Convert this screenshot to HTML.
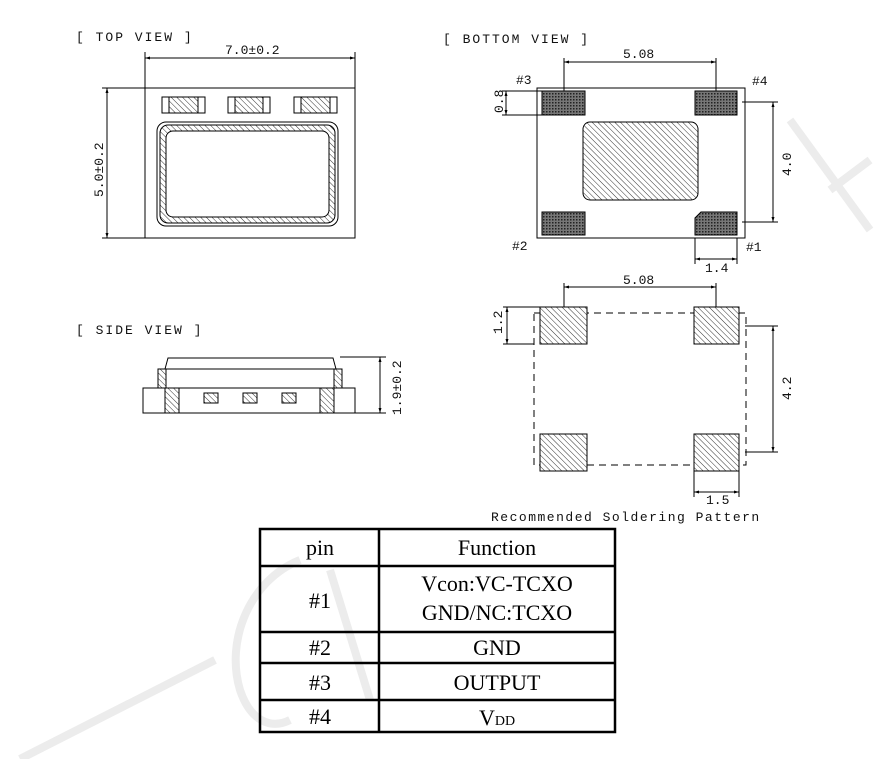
<!DOCTYPE html>
<html><head><style>
html,body{margin:0;padding:0;background:#fff;}
svg{display:block}
.t{font-family:"Liberation Mono",monospace;font-size:13px;fill:#111}
.s{font-family:"Liberation Serif",serif;font-size:22px;fill:#000}
</style></head><body>
<svg width="881" height="759" viewBox="0 0 881 759" xmlns="http://www.w3.org/2000/svg">
<defs>
<pattern id="h" width="4" height="4" patternUnits="userSpaceOnUse" patternTransform="rotate(-45)"><rect width="4" height="4" fill="#fff"/><line x1="0" y1="0" x2="0" y2="4" stroke="#333" stroke-width="1"/></pattern>
<pattern id="d" width="3" height="3" patternUnits="userSpaceOnUse"><rect width="3" height="3" fill="#777"/><rect width="1.5" height="1.5" fill="#222"/></pattern>
<marker id="a" viewBox="0 0 10 10" refX="10" refY="5" markerWidth="7" markerHeight="5" orient="auto-start-reverse"><path d="M0,2 L10,5 L0,8z" fill="#000"/></marker>
</defs>
<!-- watermark -->
<g stroke="#ececec" stroke-width="8" fill="none">
<line x1="20" y1="759" x2="215" y2="660"/>
<path d="M300,560 C250,580 225,640 240,690 C250,720 270,730 290,720"/>
<line x1="330" y1="570" x2="370" y2="700"/>
<line x1="790" y1="120" x2="870" y2="230"/>
<line x1="830" y1="190" x2="870" y2="160"/>
</g>
<g fill="none" stroke="#000" stroke-width="1">
<!-- TOP VIEW -->
<text class="t" x="76" y="41" stroke="none" font-size="14" letter-spacing="2">[ TOP VIEW ]</text>
<text class="t" x="225" y="54" stroke="none" font-size="12.5">7.0±0.2</text>
<line x1="145" y1="58" x2="355" y2="58" marker-start="url(#a)" marker-end="url(#a)"/>
<line x1="145" y1="52" x2="145" y2="88"/><line x1="355" y1="52" x2="355" y2="88"/>
<line x1="107" y1="88" x2="107" y2="238" marker-start="url(#a)" marker-end="url(#a)"/>
<line x1="102" y1="88" x2="145" y2="88"/><line x1="102" y1="238" x2="145" y2="238"/>
<text class="t" transform="translate(103,197) rotate(-90)" stroke="none" font-size="12.5">5.0±0.2</text>
<rect x="145" y="88" width="210" height="150"/>
<rect x="162" y="97" width="43" height="16"/><rect x="169" y="97" width="29" height="16" fill="url(#h)"/>
<rect x="228" y="97" width="42" height="16"/><rect x="235" y="97" width="28" height="16" fill="url(#h)"/>
<rect x="294" y="97" width="43" height="16"/><rect x="301" y="97" width="29" height="16" fill="url(#h)"/>
<rect x="157" y="122" width="181" height="104" rx="9"/>
<rect x="160" y="125" width="175" height="98" rx="8" fill="url(#h)"/>
<rect x="166" y="131" width="163" height="86" rx="7" fill="#fff"/>
<!-- SIDE VIEW -->
<text class="t" x="76" y="334" stroke="none" font-size="14" letter-spacing="2">[ SIDE VIEW ]</text>
<path d="M165,369 L168,358 L333,358 L336,369"/>
<rect x="158" y="369" width="184" height="19"/>
<rect x="158" y="369" width="8" height="19" fill="url(#h)"/><rect x="334" y="369" width="8" height="19" fill="url(#h)"/>
<rect x="143" y="388" width="212" height="25"/>
<rect x="165" y="388" width="14" height="25" fill="url(#h)"/><rect x="320" y="388" width="14" height="25" fill="url(#h)"/>
<rect x="204" y="393" width="14" height="10" fill="url(#h)"/><rect x="243" y="393" width="14" height="10" fill="url(#h)"/><rect x="282" y="393" width="14" height="10" fill="url(#h)"/>
<line x1="380" y1="357" x2="380" y2="413" marker-start="url(#a)" marker-end="url(#a)"/>
<line x1="340" y1="357" x2="386" y2="357"/><line x1="355" y1="413" x2="386" y2="413"/>
<text class="t" transform="translate(401,415) rotate(-90)" stroke="none" font-size="12.5">1.9±0.2</text>
<!-- BOTTOM VIEW -->
<text class="t" x="443" y="43" stroke="none" font-size="14" letter-spacing="2">[ BOTTOM VIEW ]</text>
<text class="t" x="623" y="58" stroke="none" font-size="12.5">5.08</text>
<line x1="564" y1="62" x2="716" y2="62" marker-start="url(#a)" marker-end="url(#a)"/>
<line x1="564" y1="58" x2="564" y2="93"/><line x1="716" y1="58" x2="716" y2="93"/>
<rect x="537" y="88" width="208" height="150"/>
<rect x="542" y="91" width="43" height="24" fill="url(#d)"/>
<rect x="695" y="91" width="42" height="24" fill="url(#d)"/>
<rect x="542" y="212" width="43" height="23" fill="url(#d)"/>
<path d="M701,212 L737,212 L737,235 L695,235 L695,218z" fill="url(#d)"/>
<rect x="583" y="122" width="115" height="78" rx="7" fill="url(#h)"/>
<line x1="506" y1="91" x2="506" y2="115" marker-start="url(#a)" marker-end="url(#a)"/>
<line x1="502" y1="91" x2="542" y2="91"/><line x1="502" y1="115" x2="542" y2="115"/>
<text class="t" transform="translate(503,113) rotate(-90)" stroke="none" font-size="12.5">0.8</text>
<line x1="773" y1="102" x2="773" y2="222" marker-start="url(#a)" marker-end="url(#a)"/>
<line x1="742" y1="102" x2="778" y2="102"/><line x1="742" y1="222" x2="778" y2="222"/>
<text class="t" transform="translate(791,176) rotate(-90)" stroke="none" font-size="12.5">4.0</text>
<line x1="695" y1="259" x2="737" y2="259" marker-start="url(#a)" marker-end="url(#a)"/>
<line x1="695" y1="238" x2="695" y2="264"/><line x1="737" y1="238" x2="737" y2="264"/>
<text class="t" x="705" y="272" stroke="none" font-size="12.5">1.4</text>
<text class="t" x="516" y="84" stroke="none" font-size="12.5">#3</text>
<text class="t" x="752" y="85" stroke="none" font-size="12.5">#4</text>
<text class="t" x="512" y="250" stroke="none" font-size="12.5">#2</text>
<text class="t" x="746" y="251" stroke="none" font-size="12.5">#1</text>
<!-- SOLDERING -->
<text class="t" x="623" y="284" stroke="none" font-size="12.5">5.08</text>
<line x1="564" y1="287" x2="716" y2="287" marker-start="url(#a)" marker-end="url(#a)"/>
<line x1="564" y1="283" x2="564" y2="307"/><line x1="716" y1="283" x2="716" y2="307"/>
<rect x="534" y="313" width="212" height="152" stroke-dasharray="7,5"/>
<rect x="540" y="307" width="47" height="37" fill="url(#h)"/>
<rect x="694" y="307" width="45" height="37" fill="url(#h)"/>
<rect x="540" y="434" width="47" height="37" fill="url(#h)"/>
<rect x="694" y="434" width="45" height="37" fill="url(#h)"/>
<line x1="507" y1="307" x2="507" y2="344" marker-start="url(#a)" marker-end="url(#a)"/>
<line x1="503" y1="307" x2="540" y2="307"/><line x1="503" y1="344" x2="534" y2="344"/>
<text class="t" transform="translate(502,334) rotate(-90)" stroke="none" font-size="12.5">1.2</text>
<line x1="773" y1="326" x2="773" y2="452" marker-start="url(#a)" marker-end="url(#a)"/>
<line x1="745" y1="326" x2="778" y2="326"/><line x1="745" y1="452" x2="778" y2="452"/>
<text class="t" transform="translate(791,400) rotate(-90)" stroke="none" font-size="12.5">4.2</text>
<line x1="694" y1="492" x2="739" y2="492" marker-start="url(#a)" marker-end="url(#a)"/>
<line x1="694" y1="471" x2="694" y2="497"/><line x1="739" y1="471" x2="739" y2="497"/>
<text class="t" x="706" y="504" stroke="none" font-size="12.5">1.5</text>
<text class="t" x="491" y="521" stroke="none" font-size="15" letter-spacing="1.5">Recommended Soldering Pattern</text>
</g>
<!-- TABLE -->
<g stroke="#000" stroke-width="2.5" fill="none">
<rect x="260" y="529" width="355" height="203"/>
<line x1="379" y1="529" x2="379" y2="732"/>
<line x1="260" y1="566" x2="615" y2="566"/>
<line x1="260" y1="632" x2="615" y2="632"/>
<line x1="260" y1="663" x2="615" y2="663"/>
<line x1="260" y1="700" x2="615" y2="700"/>
</g>
<g class="s" text-anchor="middle">
<text x="320" y="555">pin</text><text x="497" y="555">Function</text>
<text x="320" y="608">#1</text><text x="497" y="591">Vcon:VC-TCXO</text><text x="497" y="620">GND/NC:TCXO</text>
<text x="320" y="655">#2</text><text x="497" y="655">GND</text>
<text x="320" y="690">#3</text><text x="497" y="690">OUTPUT</text>
<text x="320" y="724">#4</text><text x="497" y="725">V<tspan font-size="14">DD</tspan></text>
</g>
</svg>
</body></html>
